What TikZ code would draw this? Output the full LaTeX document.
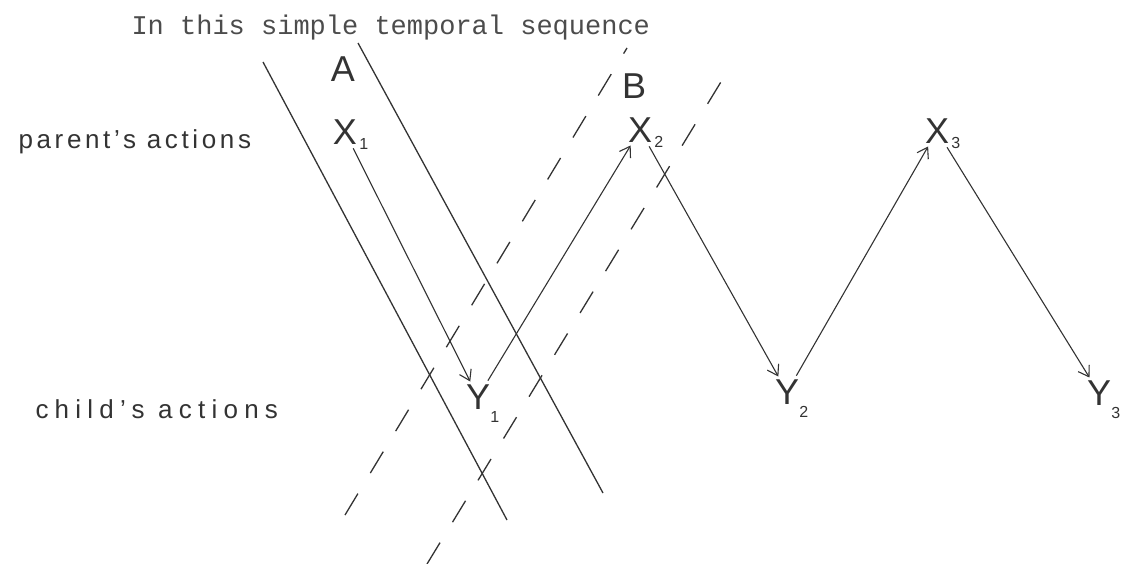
\documentclass[tikz,border=0pt]{standalone}
\usepackage{fontspec}
\setmainfont{Liberation Sans}
\setmonofont{Liberation Mono}
\usetikzlibrary{arrows.meta}

\tikzset{
  pen/.style={black!80, line width=1.1pt},
  act/.style={pen, -{Straight Barb[length=10pt,width=13pt]}, shorten >=1pt, shorten <=2pt},
  strand/.style={pen, line width=1.3pt},
  seam/.style={pen, line width=1.3pt, dash pattern=on 25pt off 24pt},
  letter/.style={font=\fontsize{36}{36}\selectfont, inner sep=2pt, text=black!80},
  sub/.style={font=\fontsize{16}{16}\selectfont, text=black!80, inner sep=0pt},
  hand/.style={font=\fontsize{26}{26}\selectfont, text=black!80, anchor=base west},
}

\begin{document}
\begin{tikzpicture}[x=1pt,y=-1pt]
  \useasboundingbox (0,0) rectangle (1124,564);
  \node[anchor=base west, font=\ttfamily\fontsize{27}{27}\selectfont, text=black!70] (title) at (128,35) {In this simple temporal sequence};
  \node[hand] (parent) at (15,149) {\addfontfeature{LetterSpace=14}parent's actions};
  \node[hand] (child) at (32,418) {\addfontfeature{LetterSpace=24}child's actions};

  % strand A (solid) and strand B (dashed)
  \coordinate (a1) at (263,62);  \coordinate (a2) at (507,520);
  \coordinate (a3) at (358,43);  \coordinate (a4) at (603,493);
  \coordinate (b1) at (345,515); \coordinate (b2) at (627,48);
  \coordinate (b3) at (427,564); \coordinate (b4) at (727,72);
  \draw[strand] (a1) -- (a2);
  \draw[strand] (a3) -- (a4);
  \draw[seam] (b1) -- (b2);
  \draw[seam] (b3) -- (b4);
  \node[letter] (A) at (343,69) {A};
  \node[letter] (B) at (634,86) {B};

  % actions
  \node[letter, label={[sub]-25:1}] (x1) at (345,132) {X};
  \node[letter, label={[sub]-25:2}] (x2) at (640,130) {X};
  \node[letter, label={[sub]-25:3}] (x3) at (937,131) {X};
  \node[letter, label={[sub]-50:1}] (y1) at (478,397) {Y};
  \node[letter, label={[sub]-50:2}] (y2) at (787,392) {Y};
  \node[letter, label={[sub]-50:3}] (y3) at (1099,393) {Y};

  \draw[act] (x1) -- (y1);
  \draw[act] (y1) -- (x2);
  \draw[act] (x2) -- (y2);
  \draw[act] (y2) -- (x3);
  \draw[act] (x3) -- (y3);
\end{tikzpicture}
\end{document}
